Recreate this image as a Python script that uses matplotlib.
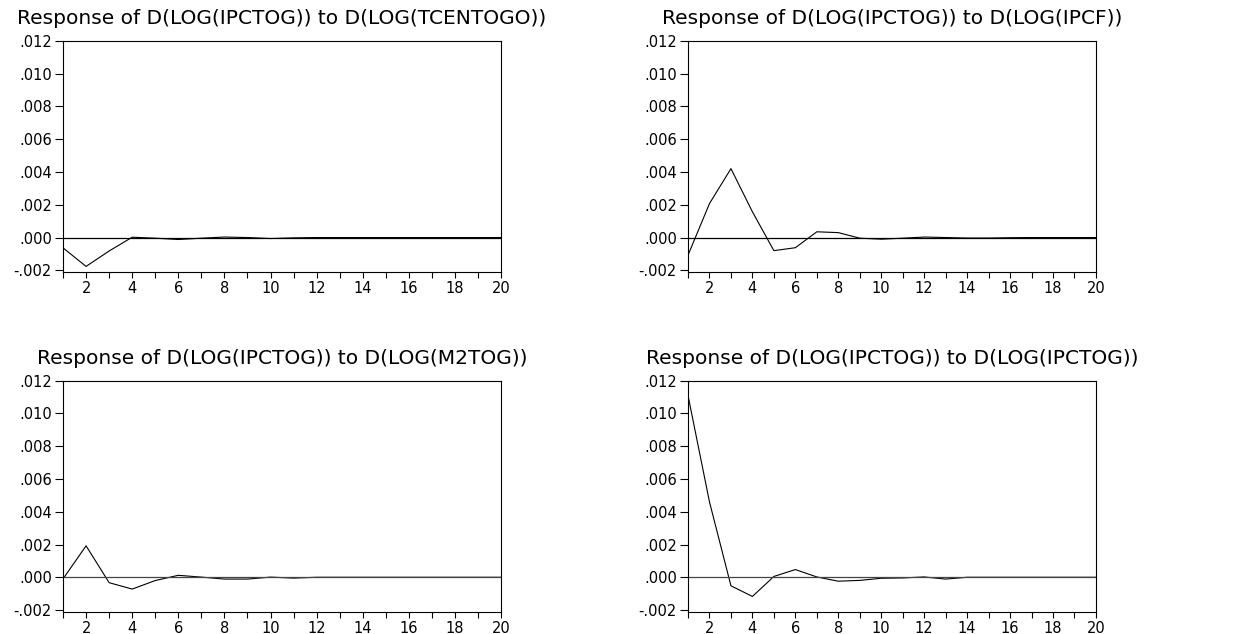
import numpy as np
import matplotlib.pyplot as plt
from matplotlib.ticker import FuncFormatter, MultipleLocator

plt.rcParams['font.family'] = ['DejaVu Sans']

periods = np.arange(1, 21)

# responses of D(LOG(IPCTOG))
resp_tcentogo = [-0.00063, -0.00176, -0.00082, 0.00002, -0.00004, -0.00012, -0.00004, 0.00003,
                 0.0, -0.00006, -0.00002, 0.0, 0.0, 0.0, 0.0, 0.0, 0.0, 0.0, 0.0, 0.0]
resp_ipcf = [-0.00108, 0.00207, 0.00420, 0.00157, -0.00080, -0.00062, 0.00035, 0.00030,
             -0.00004, -0.00010, -0.00004, 0.00003, 0.0, -0.00003, -0.00003, -0.00001,
             0.0, 0.0, 0.0, 0.0]
resp_m2tog = [-0.00010, 0.00192, -0.00033, -0.00072, -0.00020, 0.00012, 0.00001, -0.00011,
              -0.00011, 0.00001, -0.00005, 0.0, 0.0, 0.0, 0.0, 0.0, 0.0, 0.0, 0.0, 0.0]
resp_ipctog = [0.01110, 0.00460, -0.00052, -0.00117, 0.00005, 0.00047, 0.00002, -0.00024,
               -0.00019, -0.00006, -0.00004, 0.00002, -0.00011, 0.0, 0.0, 0.0, 0.0, 0.0, 0.0, 0.0]

titles = ['Response of D(LOG(IPCTOG)) to D(LOG(TCENTOGO))',
          'Response of D(LOG(IPCTOG)) to D(LOG(IPCF))',
          'Response of D(LOG(IPCTOG)) to D(LOG(M2TOG))',
          'Response of D(LOG(IPCTOG)) to D(LOG(IPCTOG))']
series = [resp_tcentogo, resp_ipcf, resp_m2tog, resp_ipctog]

fig = plt.figure(figsize=(12.43, 6.34), dpi=100)
boxes = [[0.0507, 0.571, 0.3524, 0.3648],
         [0.5535, 0.571, 0.3282, 0.3648],
         [0.0507, 0.0352, 0.3524, 0.3644],
         [0.5535, 0.0352, 0.3282, 0.3644]]
zero_col = ['black', 'black', '#444444', '#444444']


def fmt(v, pos):
    s = '%.3f' % v
    return s.replace('0.', '.', 1)


for i in range(4):
    ax = fig.add_axes(boxes[i])
    ax.plot(periods, series[i], color='black', lw=0.8)
    ax.axhline(0, color=zero_col[i], lw=0.9)
    ax.set_xlim(1, 20)
    ax.set_ylim(-0.0021, 0.012)
    ax.xaxis.set_major_locator(MultipleLocator(2))
    ax.xaxis.set_minor_locator(MultipleLocator(1))
    ax.yaxis.set_major_locator(MultipleLocator(0.002))
    ax.yaxis.set_major_formatter(FuncFormatter(fmt))
    ax.tick_params(axis='both', which='both', direction='out', labelsize=10.5,
                   width=0.8)
    ax.tick_params(axis='x', which='both', length=4.5, pad=2)
    ax.tick_params(axis='y', length=6, pad=2)
    for sp in ax.spines.values():
        sp.set_linewidth(0.8)
    ax.set_title(titles[i], fontsize=14.5, pad=12)

fig.savefig('out.png', dpi=100)
